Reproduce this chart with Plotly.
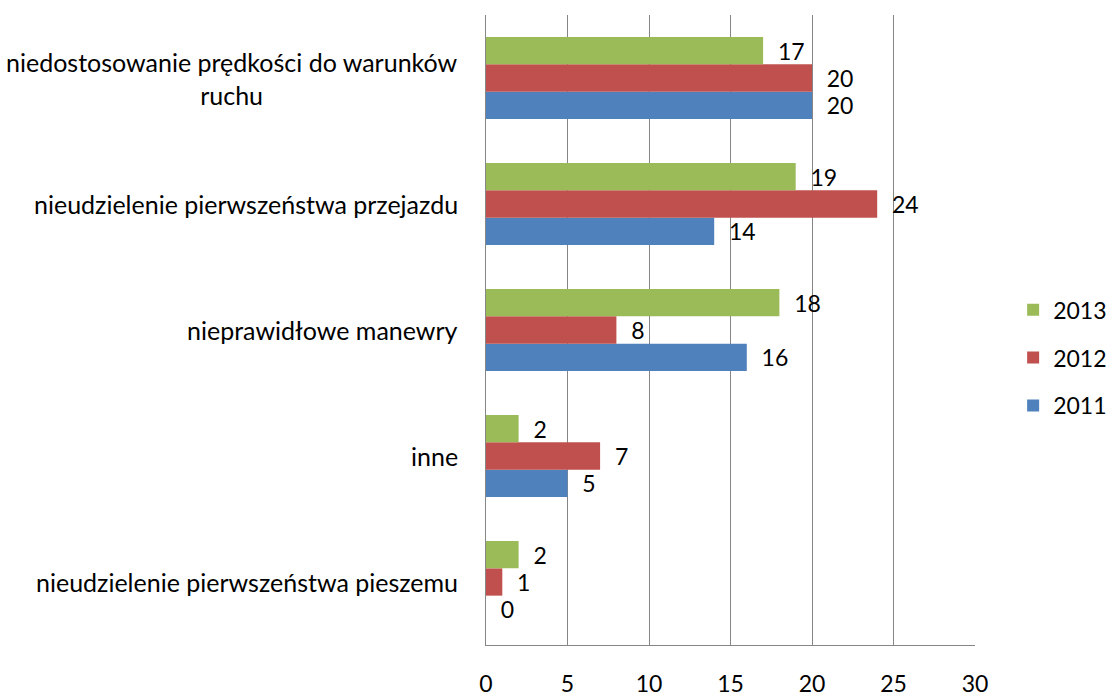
import plotly.graph_objects as go

categories = [
    "nieudzielenie pierwszeństwa pieszemu",
    "inne",
    "nieprawidłowe manewry",
    "nieudzielenie pierwszeństwa przejazdu",
    "niedostosowanie prędkości do warunków<br>ruchu",
]
years = ["2011", "2012", "2013"]
values_2011 = [0, 5, 16, 14, 20]
values_2012 = [1, 7, 8, 24, 20]
values_2013 = [2, 2, 18, 19, 17]
colors = {"2011": "#4F81BD", "2012": "#C0504D", "2013": "#9BBB59"}
legend_rank = {"2013": 1, "2012": 2, "2011": 3}
x_ticks = [0, 5, 10, 15, 20, 25, 30]

FONT = "Lato"
fig = go.Figure()
for yr, vals in zip(years, [values_2011, values_2012, values_2013]):
    fig.add_trace(go.Bar(
        y=list(range(len(categories))), x=vals, name=yr, orientation="h",
        marker=dict(color=colors[yr], line=dict(width=0)),
        text=vals, texttemplate="  %{x}", textposition="outside",
        textfont=dict(family=FONT, size=23, color="#000000"),
        constraintext="none", cliponaxis=False, legendgroup=yr,
        legendrank=legend_rank[yr],
    ))

for i, c in enumerate(categories):
    fig.add_annotation(
        x=0, xref="paper", y=i, yref="y", text=c, showarrow=False,
        xanchor="right", xshift=-26, align="center",
        font=dict(family=FONT, size=25, color="#000000"),
    )

fig.update_layout(
    width=1111, height=700,
    margin=dict(l=486, r=136, t=15, b=55, autoexpand=False),
    paper_bgcolor="white", plot_bgcolor="white",
    barmode="group", bargap=0.35, bargroupgap=0,
    font=dict(family=FONT, size=23, color="#000000"),
    legend=dict(
        traceorder="grouped", tracegroupgap=15,
        x=1.078, xanchor="left", y=0.456, yanchor="middle",
        font=dict(family=FONT, size=23, color="#000000"),
    ),
    showlegend=True,
)
fig.update_xaxes(
    range=[0, 30], tickvals=x_ticks, showgrid=True, gridcolor="#868686",
    gridwidth=1.3, zeroline=False, showline=True, linecolor="#868686",
    linewidth=1.3, ticks="", ticklabelstandoff=18,
    tickfont=dict(family=FONT, size=23, color="#000000"),
)
fig.update_yaxes(
    range=[-0.5, len(categories) - 0.5], showticklabels=False,
    showgrid=False, zeroline=False, showline=True, linecolor="#868686",
    linewidth=1.3, ticks="",
)
fig.write_html(
    "out.html",
    config={"displayModeBar": False},
    post_script="document.body.style.margin='0px';document.body.style.overflow='hidden';",
)
